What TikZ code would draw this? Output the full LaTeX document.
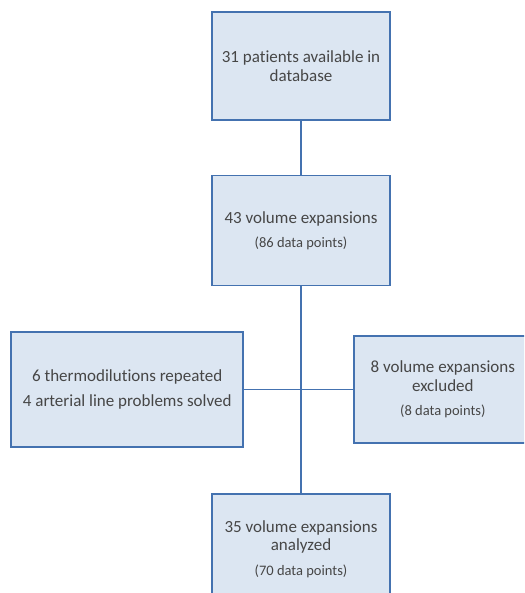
\documentclass[tikz,border=0pt]{standalone}
\usepackage{fontspec}
\setmainfont{Carlito}[Ligatures=NoCommon]
\usetikzlibrary{positioning, calc}
\definecolor{boxfill}{RGB}{220,230,242}
\definecolor{boxline}{RGB}{68,114,176}
\definecolor{txt}{RGB}{70,70,70}

\begin{document}
\begin{tikzpicture}[
  x=1pt, y=1pt,
  every node/.style={font=\fontsize{17}{18.5}\selectfont, text=txt},
  rec/.style={rectangle, draw=boxline, fill=boxfill, line width=1.6pt,
              align=center, minimum width=178pt, minimum height=108pt,
              inner sep=4pt},
  lnk/.style={draw=boxline, line width=1.6pt},
  thinlnk/.style={draw=boxline, line width=0.9pt},
]
\useasboundingbox (0,0) rectangle (524,-593);
\clip (0,0) rectangle (524,-593);
\node[rec] (DB) at (301,-66) {31 patients available in\\database};
\node[rec, below=54pt of DB, minimum height=110pt] (VE) {
  43 volume expansions\\[5pt]
  {\fontsize{14.5}{16}\selectfont (86 data points)}
};
\coordinate[below=103pt of VE.south] (J);
\node[rec, left=57pt of J, anchor=east, minimum width=232pt,
      minimum height=115pt] (RP) {
  6 thermodilutions repeated\\[7pt]
  4 arterial line problems solved
};
\node[rec, right=52pt of J, anchor=west, minimum height=107pt] (EX) {
  8 volume expansions\\
  excluded\\[6pt]
  {\fontsize{14.5}{16}\selectfont (8 data points)}
};
\node[rec, below=207pt of VE, minimum height=110pt] (AN) {
  35 volume expansions\\
  analyzed\\[6pt]
  {\fontsize{14.5}{16}\selectfont (70 data points)}
};
\draw[lnk] (DB) -- (VE);
\draw[lnk] (VE) -- (AN);
\draw[thinlnk] (RP) -- (J);
\draw[lnk] (J) -- (EX);
\end{tikzpicture}
\end{document}
